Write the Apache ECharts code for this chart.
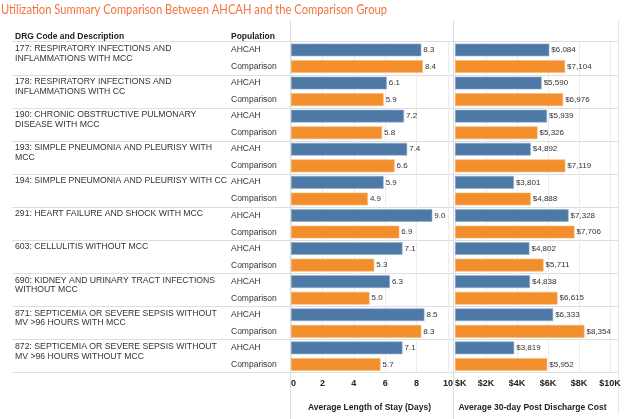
<!DOCTYPE html>
<html><head><meta charset="utf-8">
<script src="https://cdn.jsdelivr.net/npm/echarts@6/dist/echarts.min.js"></script>
<style>html,body{margin:0;padding:0;background:#fff}#c{width:630px;height:419px}</style>
</head><body><div id="c"></div>
<script>
var descriptions = [
  "177: RESPIRATORY INFECTIONS AND\nINFLAMMATIONS WITH MCC",
  "178: RESPIRATORY INFECTIONS AND\nINFLAMMATIONS WITH CC",
  "190: CHRONIC OBSTRUCTIVE PULMONARY\nDISEASE WITH MCC",
  "193: SIMPLE PNEUMONIA AND PLEURISY WITH\nMCC",
  "194: SIMPLE PNEUMONIA AND PLEURISY WITH CC",
  "291: HEART FAILURE AND SHOCK WITH MCC",
  "603: CELLULITIS WITHOUT MCC",
  "690: KIDNEY AND URINARY TRACT INFECTIONS\nWITHOUT MCC",
  "871: SEPTICEMIA OR SEVERE SEPSIS WITHOUT\nMV >96 HOURS WITH MCC",
  "872: SEPTICEMIA OR SEVERE SEPSIS WITHOUT\nMV >96 HOURS WITHOUT MCC"
];
var populations = ["AHCAH", "Comparison"];
var losAHCAH = [8.3, 6.1, 7.2, 7.4, 5.9, 9.0, 7.1, 6.3, 8.5, 7.1];
var losComparison = [8.4, 5.9, 5.8, 6.6, 4.9, 6.9, 5.3, 5.0, 8.3, 5.7];
var costAHCAH = [6084, 5590, 5939, 4892, 3801, 7328, 4802, 4838, 6333, 3819];
var costComparison = [7104, 6976, 5326, 7119, 4888, 7706, 5711, 6615, 8354, 5952];
var losTicks = ["0", "2", "4", "6", "8", "10"];
var costTicks = ["$K", "$2K", "$4K", "$6K", "$8K", "$10K"];

var blue = '#4e79a7', orange = '#f28e2b';
var font = 'Liberation Sans, Arial, sans-serif';
var chart = echarts.init(document.getElementById('c'));
var gTop = 41.7, gBottom = 419 - 372.7;
function money(v){ return '$' + v.toLocaleString('en-US'); }
function lab(fmt){ return {show:true, position:'right', distance:2, fontSize:8, color:'#333', fontFamily:font, formatter:function(p){return fmt(p.value);}}; }
function threeLines(s){ var a = s.split('\n'); while (a.length < 3) a.push(' '); return a.join('\n'); }

chart.setOption({
  animation:false,
  title:[
    {text:'DRG Code and Description', left:10, top:27, textStyle:{fontSize:8.5, fontWeight:'bold', color:'#222', fontFamily:font}},
    {text:'Population', left:226, top:27, textStyle:{fontSize:8.5, fontWeight:'bold', color:'#222', fontFamily:font}}
  ],
  graphic:[
    {type:'text', x:1, y:9, scaleX:0.8,
     style:{text:'Utilization Summary Comparison Between AHCAH and the Comparison Group',
       font:'14px Lato, "Open Sans", sans-serif', fill:'#f4733f', verticalAlign:'middle', align:'left'}},
    {type:'line', shape:{x1:290.5,y1:20,x2:290.5,y2:419}, style:{stroke:'#dcdcdc', lineWidth:1}, z:0},
    {type:'line', shape:{x1:453.5,y1:20,x2:453.5,y2:419}, style:{stroke:'#dcdcdc', lineWidth:1}, z:0},
    {type:'line', shape:{x1:618.5,y1:20,x2:618.5,y2:414}, style:{stroke:'#e6e6e6', lineWidth:1}, z:0}
  ],
  grid:[
    {left:291, width:157, top:gTop, bottom:gBottom},
    {left:455, width:155, top:gTop, bottom:gBottom},
    {left:12, right:11, top:gTop, bottom:gBottom}
  ],
  xAxis:[
    {gridIndex:0, type:'value', min:0, max:10, interval:2,
     axisLine:{show:false}, axisTick:{show:false},
     splitLine:{lineStyle:{color:'#ececec'}},
     axisLabel:{margin:6, fontSize:9, fontWeight:'bold', color:'#222', fontFamily:font, alignMinLabel:'left',
       formatter:function(v){return losTicks[Math.round(v/2)];}},
     name:'Average Length of Stay (Days)', nameLocation:'middle', nameGap:30,
     nameTextStyle:{fontSize:8.5, fontWeight:'bold', color:'#222', fontFamily:font}},
    {gridIndex:1, type:'value', min:0, max:10000, interval:2000,
     axisLine:{show:false}, axisTick:{show:false},
     splitLine:{lineStyle:{color:'#ececec'}},
     axisLabel:{margin:6, fontSize:9, fontWeight:'bold', color:'#222', fontFamily:font, alignMinLabel:'left',
       formatter:function(v){return costTicks[Math.round(v/2000)];}},
     name:'Average 30-day Post Discharge Cost', nameLocation:'middle', nameGap:30,
     nameTextStyle:{fontSize:8.5, fontWeight:'bold', color:'#222', fontFamily:font}},
    {gridIndex:2, type:'value', show:false, min:0, max:1}
  ],
  yAxis:[
    {gridIndex:0, type:'category', data:descriptions, inverse:true,
     axisLine:{show:false}, axisTick:{show:false}, splitLine:{show:false},
     axisLabel:{interval:0, margin:60, align:'left', fontSize:8.5, color:'#333', fontFamily:font,
       lineHeight:17, formatter:function(){return populations.join('\n');}}},
    {gridIndex:1, type:'category', data:descriptions, inverse:true,
     axisLine:{show:false}, axisTick:{show:false}, axisLabel:{show:false}, splitLine:{show:false}},
    {gridIndex:2, type:'category', data:descriptions, inverse:true,
     axisLine:{show:false}, axisTick:{show:false},
     splitLine:{show:true, interval:0, lineStyle:{color:'#dedede'}},
     axisLabel:{inside:true, interval:0, margin:3, align:'left', fontSize:8.7, color:'#333', fontFamily:font,
       lineHeight:9.8, formatter:threeLines}}
  ],
  series:[
    {type:'bar', name:'AHCAH', xAxisIndex:0, yAxisIndex:0, data:losAHCAH, barWidth:12.7, barGap:'31%',
     itemStyle:{color:blue, borderColor:'#8fb0d3', borderWidth:0.6}, label:lab(function(v){return v.toFixed(1);})},
    {type:'bar', name:'Comparison', xAxisIndex:0, yAxisIndex:0, data:losComparison, barWidth:12.7, barGap:'31%',
     itemStyle:{color:orange, borderColor:'#f8b877', borderWidth:0.6}, label:lab(function(v){return v.toFixed(1);})},
    {type:'bar', name:'AHCAH', xAxisIndex:1, yAxisIndex:1, data:costAHCAH, barWidth:12.7, barGap:'31%',
     itemStyle:{color:blue, borderColor:'#8fb0d3', borderWidth:0.6}, label:lab(money)},
    {type:'bar', name:'Comparison', xAxisIndex:1, yAxisIndex:1, data:costComparison, barWidth:12.7, barGap:'31%',
     itemStyle:{color:orange, borderColor:'#f8b877', borderWidth:0.6}, label:lab(money)}
  ]
});
</script></body></html>
